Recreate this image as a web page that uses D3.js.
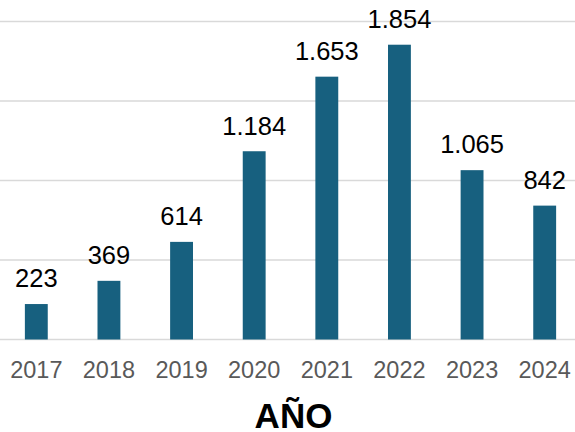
<!DOCTYPE html>
<html><head><meta charset="utf-8">
<script src="https://cdn.jsdelivr.net/npm/d3@7"></script>
<style>html,body{margin:0;padding:0;background:#fff;}</style>
</head><body>
<svg id="c" width="575" height="432"></svg>
<script>
const years = ["2017","2018","2019","2020","2021","2022","2023","2024"];
const values = [223, 369, 614, 1184, 1653, 1854, 1065, 842];
const gridTicks = [0, 500, 1000, 1500, 2000];
const axisTitle = "AÑO";

const svg = d3.select("#c");
const W = 575, H = 432;
const x = d3.scaleBand().domain(years).range([0, 581]).paddingInner(0.685).paddingOuter(0.3425);
const y = d3.scaleLinear().domain([0, 2000]).range([339.5, 21.5]);
const fmt = v => d3.format(",")(v).replace(/,/g, ".");

svg.append("g").selectAll("line").data(gridTicks).join("line")
  .attr("x1", 0).attr("x2", W)
  .attr("y1", d => y(d)).attr("y2", d => y(d))
  .attr("stroke", "#d9d9d9").attr("stroke-width", 1.6);

svg.append("g").selectAll("rect").data(values).join("rect")
  .attr("x", (d, i) => x(years[i]))
  .attr("width", x.bandwidth())
  .attr("y", d => y(d))
  .attr("height", d => y(0) - y(d))
  .attr("fill", "#17607f");

svg.append("g").selectAll("text").data(values).join("text")
  .attr("x", (d, i) => x(years[i]) + x.bandwidth() / 2)
  .attr("y", d => y(d) - 16.7)
  .attr("text-anchor", "middle")
  .attr("font-family", "Liberation Sans, Arial, sans-serif")
  .attr("font-size", 25.5)
  .attr("fill", "#000")
  .text(d => fmt(d));

const xAxis = svg.append("g").attr("transform", `translate(0,${y(0)})`)
  .call(d3.axisBottom(x).tickSize(0).tickPadding(0));
xAxis.select(".domain").remove();
xAxis.selectAll("text")
  .attr("dy", null).attr("y", 38)
  .attr("font-family", "Liberation Sans, Arial, sans-serif")
  .attr("font-size", 23.5)
  .attr("fill", "#595959");

svg.append("text")
  .attr("x", 293.5).attr("y", 427.5)
  .attr("text-anchor", "middle")
  .attr("font-family", "Liberation Sans, Arial, sans-serif")
  .attr("font-weight", "bold")
  .attr("font-size", 35)
  .attr("fill", "#000")
  .text(axisTitle);
</script>
</body></html>
